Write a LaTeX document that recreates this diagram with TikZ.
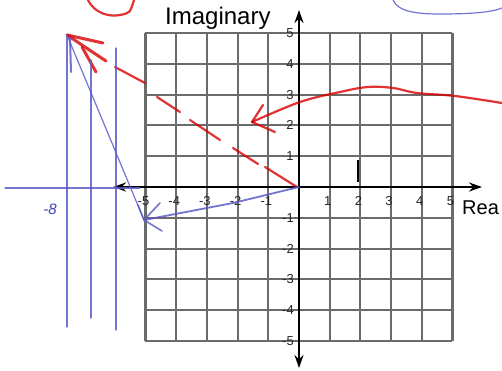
\documentclass[tikz,border=0pt]{standalone}
\usepackage{fontspec}
\setmainfont{Liberation Sans}
\usetikzlibrary{arrows.meta}
\begin{document}
\begin{tikzpicture}[x=1pt,y=-1pt,
  gridline/.style={draw=black!58, line width=2.1pt},
  axisline/.style={line width=2.6pt, -{Stealth[length=13pt,width=9pt]}},
  ticklbl/.style={font=\fontsize{13}{13}\selectfont, text=black!85, inner sep=0pt},
  redpen/.style={draw=red!85!black, line width=2.2pt, opacity=0.8, line cap=round},
  bluepen/.style={draw=blue!50!gray!85, line width=1.2pt, line cap=round, opacity=0.85},
]
\useasboundingbox (0,0) rectangle (502,370);
% grid
\foreach \i in {-5,...,5} {
  \draw[gridline] ({299+30.7*\i},33) -- ({299+30.7*\i},341);
  \draw[gridline] (145,{187+30.8*\i}) -- (452,{187+30.8*\i});
}
% axes
\coordinate (O) at (299,187);
\coordinate (xr) at (482,187);
\coordinate (xl) at (113,187);
\coordinate (yt) at (299,10);
\coordinate (yb) at (299,368);
\draw[axisline] (O) -- (xr);
\draw[axisline] (O) -- (xl);
\draw[axisline] (O) -- (yt);
\draw[axisline] (O) -- (yb);
% axis titles
\node[anchor=base west, inner sep=0pt, font=\fontsize{24}{24}\selectfont] (imag) at (165,24) {Imaginary};
\node[anchor=base west, inner sep=0pt, font=\fontsize{20}{20}\selectfont] (real) at (462,214) {Rea};
% tick labels
\foreach \v in {1,...,5} {
  \node[ticklbl] (ty\v) at (290,{187-30.8*\v}) {\v};
  \node[ticklbl] (tyn\v) at (288,{187+30.8*\v}) {-\v};
  \node[ticklbl] (tx\v) at ({297+30.7*\v},201) {\v};
  \node[ticklbl] (txn\v) at ({297-30.7*\v},201) {-\v};
}
% black tick mark
\coordinate (bk1) at (358,160);
\coordinate (bk2) at (358,182);
\draw[line width=2pt] (bk1) -- (bk2);
% red curve with arrow
\coordinate (rtip) at (252,122);
\draw[redpen] plot[smooth, tension=0.6] coordinates {(502,103) (455,96) (417,93) (393,88) (368,87) (340,92) (300,102) (252,122)};
\draw[redpen] (rtip) -- (263,105);
\draw[redpen] (rtip) -- (275,132);
% red dashed line from origin to P
\coordinate (P) at (67,35);
\draw[redpen] (265,167) -- (297,187);
\draw[redpen] (233,148) -- (258,164);
\draw[redpen] (190,120) -- (220,140);
\draw[redpen] (157,97) -- (180,112);
\draw[redpen] (115,67) -- (145,83);
\draw[redpen, line width=3pt] (P) -- (106,61);
\draw[redpen, line width=3pt] (P) -- (103,43);
\draw[redpen, line width=3pt] (82,47) -- (96,72);
% red circle fragment
\draw[redpen] (88,0) .. controls (95,14) and (110,17) .. (120,15) .. controls (130,13) .. (134,0);
% blue annotations
\coordinate (Q) at (144,220);
\draw[bluepen] (5,188) -- (140,188);
\node[text=blue!50!gray, font=\fontsize{15}{15}\selectfont\itshape, inner sep=0pt] (m8) at (50,209) {-8};
\draw[bluepen] (67,35) -- (67,327);
\draw[bluepen] (91,60) -- (91,318);
\draw[bluepen] (116,48) -- (116,330);
\draw[bluepen, line width=2pt] (70,38) -- (71,72);
\draw[bluepen] (P) -- (Q);
\draw[bluepen, line width=1.8pt] (O) -- (233,203) -- (Q);
\draw[bluepen, line width=1.6pt] (Q) -- (160,203);
\draw[bluepen, line width=1.6pt] (Q) -- (162,231);
\draw[bluepen, line width=1.6pt] (Q) -- (138,205);
\draw[bluepen] (393,0) .. controls (398,12) and (418,14) .. (440,14) .. controls (465,14) and (490,13) .. (502,8);
\end{tikzpicture}
\end{document}
